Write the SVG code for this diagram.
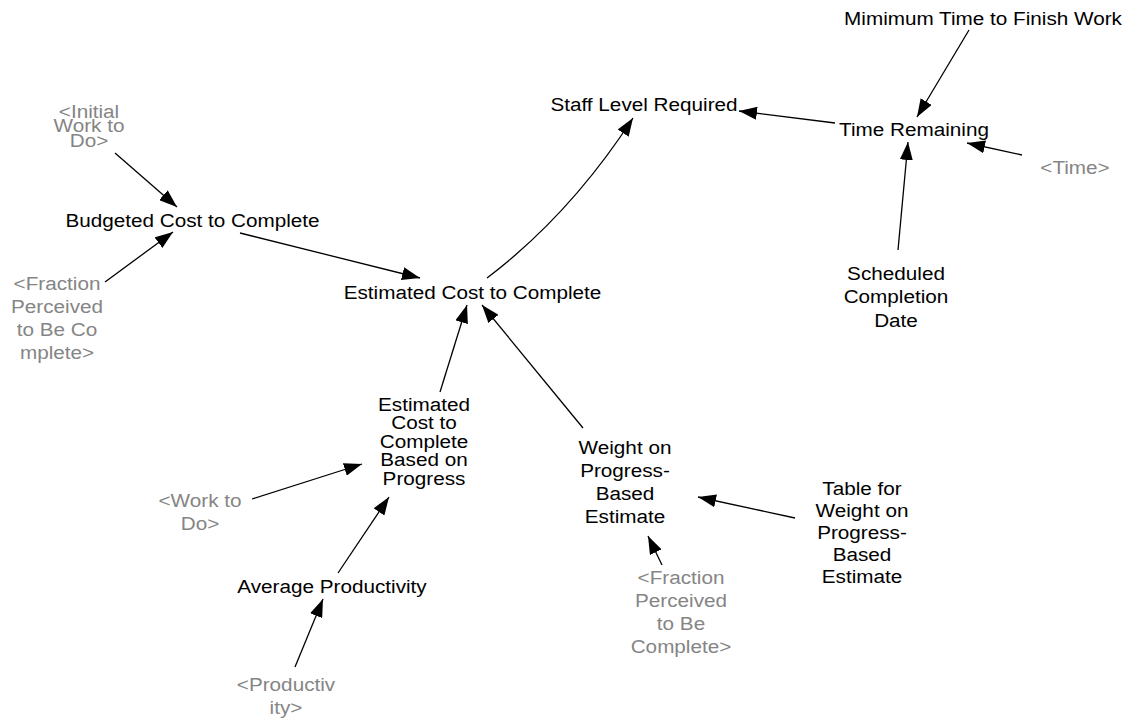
<svg xmlns="http://www.w3.org/2000/svg" width="1131" height="719" viewBox="0 0 1131 719">
<style>
  text { font-family: "Liberation Sans", Arial, sans-serif; font-size: 19px; text-anchor: middle; }
  .v { fill: #000000; }
  .g { fill: #858585; }
  .c path { fill: none; stroke: #000000; stroke-width: 1.3; marker-end: url(#ah); }
</style>
<defs>
  <marker id="ah" markerUnits="userSpaceOnUse" markerWidth="19" markerHeight="13" refX="18" refY="6.5" orient="auto">
    <path d="M0,0 L18,6.5 L0,13 z" fill="#000000"/>
  </marker>
</defs>
<rect width="1131" height="719" fill="#ffffff"/>

<g id="connectors" class="c">
  <path d="M115,153 L177,207"/>
  <path d="M105,282 L173,232"/>
  <path d="M240,233 L420,278"/>
  <path d="M487,278 Q570,215 633,118"/>
  <path d="M835,123 L739,111"/>
  <path d="M969,30 L917,117"/>
  <path d="M1022,155 L967,143"/>
  <path d="M898,250 L908,142"/>
  <path d="M440,392 L467,305"/>
  <path d="M583,428 L482,305"/>
  <path d="M252,499 L362,464"/>
  <path d="M338,573 L389,497"/>
  <path d="M295,667 L323,599"/>
  <path d="M795,518 L698,497"/>
  <path d="M662,565 L648,536"/>
</g>

<g id="initial-work-to-do">
  <text class="g" transform="translate(89,0) scale(1.09,1)"><tspan x="0" y="118">&lt;Initial</tspan><tspan x="0" y="132.5">Work to</tspan><tspan x="0" y="147">Do&gt;</tspan></text>
</g>
<g id="budgeted-cost">
  <text class="v" transform="translate(192.5,0) scale(1.09,1)"><tspan x="0" y="227">Budgeted Cost to Complete</tspan></text>
</g>
<g id="fraction-perceived-1">
  <text class="g" transform="translate(57,0) scale(1.09,1)"><tspan x="0" y="290">&lt;Fraction</tspan><tspan x="0" y="313">Perceived</tspan><tspan x="0" y="336">to Be Co</tspan><tspan x="0" y="359">mplete&gt;</tspan></text>
</g>
<g id="estimated-cost">
  <text class="v" transform="translate(472.5,0) scale(1.09,1)"><tspan x="0" y="299">Estimated Cost to Complete</tspan></text>
</g>
<g id="staff-level">
  <text class="v" transform="translate(644,0) scale(1.09,1)"><tspan x="0" y="111">Staff Level Required</tspan></text>
</g>
<g id="time-remaining">
  <text class="v" transform="translate(914,0) scale(1.09,1)"><tspan x="0" y="136">Time Remaining</tspan></text>
</g>
<g id="minimum-time">
  <text class="v" transform="translate(983,0) scale(1.09,1)"><tspan x="0" y="25">Mimimum Time to Finish Work</tspan></text>
</g>
<g id="time">
  <text class="g" transform="translate(1075,0) scale(1.09,1)"><tspan x="0" y="174">&lt;Time&gt;</tspan></text>
</g>
<g id="scheduled-completion">
  <text class="v" transform="translate(896,0) scale(1.09,1)"><tspan x="0" y="280">Scheduled</tspan><tspan x="0" y="303.5">Completion</tspan><tspan x="0" y="327">Date</tspan></text>
</g>
<g id="eccbop">
  <text class="v" transform="translate(424,0) scale(1.09,1)"><tspan x="0" y="411">Estimated</tspan><tspan x="0" y="429.5">Cost to</tspan><tspan x="0" y="448">Complete</tspan><tspan x="0" y="466.5">Based on</tspan><tspan x="0" y="485">Progress</tspan></text>
</g>
<g id="work-to-do">
  <text class="g" transform="translate(200,0) scale(1.09,1)"><tspan x="0" y="507">&lt;Work to</tspan><tspan x="0" y="530">Do&gt;</tspan></text>
</g>
<g id="average-productivity">
  <text class="v" transform="translate(332,0) scale(1.09,1)"><tspan x="0" y="593">Average Productivity</tspan></text>
</g>
<g id="productivity">
  <text class="g" transform="translate(286,0) scale(1.09,1)"><tspan x="0" y="691">&lt;Productiv</tspan><tspan x="0" y="714">ity&gt;</tspan></text>
</g>
<g id="weight">
  <text class="v" transform="translate(625,0) scale(1.09,1)"><tspan x="0" y="454">Weight on</tspan><tspan x="0" y="477">Progress-</tspan><tspan x="0" y="500.5">Based</tspan><tspan x="0" y="523.5">Estimate</tspan></text>
</g>
<g id="fraction-perceived-2">
  <text class="g" transform="translate(681,0) scale(1.09,1)"><tspan x="0" y="584">&lt;Fraction</tspan><tspan x="0" y="607">Perceived</tspan><tspan x="0" y="630">to Be</tspan><tspan x="0" y="653">Complete&gt;</tspan></text>
</g>
<g id="table-weight">
  <text class="v" transform="translate(862,0) scale(1.09,1)"><tspan x="0" y="495">Table for</tspan><tspan x="0" y="517">Weight on</tspan><tspan x="0" y="539">Progress-</tspan><tspan x="0" y="561">Based</tspan><tspan x="0" y="583">Estimate</tspan></text>
</g>
</svg>
